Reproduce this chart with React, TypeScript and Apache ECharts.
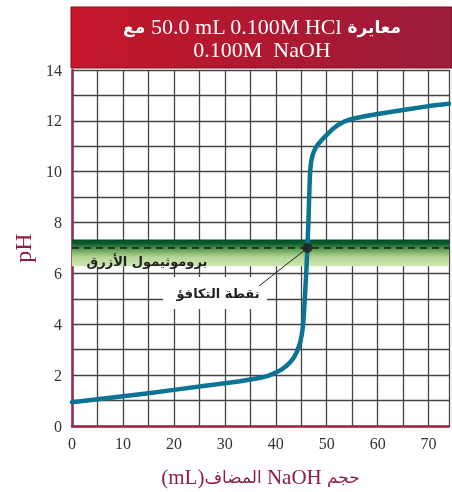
import React, { useEffect, useRef } from 'react';
import * as echarts from 'echarts';

const volume = [0, 5, 10, 15, 20, 25, 30, 33, 35, 37, 38.5, 40, 41, 42, 42.8, 43.5, 44, 44.4, 44.8, 45.1, 45.35, 45.55, 45.75, 46.0, 46.2, 46.4, 46.55, 46.7, 46.8, 46.95, 47.15, 47.45, 47.8, 48.3, 48.9, 49.6, 50.4, 51.3, 52.3, 53.4, 54.6, 56, 58, 60, 65, 70, 74];
const pHValues = [0.93, 1.05, 1.17, 1.29, 1.42, 1.55, 1.68, 1.76, 1.83, 1.9, 1.97, 2.1, 2.2, 2.35, 2.5, 2.68, 2.86, 3.05, 3.3, 3.58, 3.95, 4.5, 5.2, 6.1, 7.0, 8.0, 9.0, 9.85, 10.15, 10.4, 10.6, 10.78, 10.93, 11.08, 11.22, 11.37, 11.53, 11.7, 11.85, 11.97, 12.06, 12.12, 12.2, 12.27, 12.43, 12.58, 12.67];
const equivalencePoint = [46.2, 7];
const indicatorRange = [6.28, 7.33];
const dashedPH = 7;
const xLabels = [0, 10, 20, 30, 40, 50, 60, 70];
const yLabels = [0, 2, 4, 6, 8, 10, 12, 14];

const titleLine1 = '{ar|مع} 50.0 mL 0.100M HCl {ar|معايرة}';
const titleLine2 = '0.100M  NaOH';
const xName = '{p|(mL)}{ar|المضاف} NaOH {ar|حجم}';
const yName = 'pH';
const bandLabel = 'بروموثيمول الأزرق';
const eqLabel = 'نقطة التكافؤ';

const axisRed = '#9b2846';
const nameRed = '#8e1f40';

export default function App() {
  const ref = useRef<HTMLDivElement>(null);
  useEffect(() => {
    const chart = echarts.init(ref.current!, null, { renderer: 'svg' });
    const bandGradient = new echarts.graphic.LinearGradient(0, 0, 0, 1, [
      { offset: 0, color: '#004c26' },
      { offset: 0.15, color: '#0d5c2e' },
      { offset: 0.4, color: '#6aa55c' },
      { offset: 0.65, color: '#b3d595' },
      { offset: 1, color: '#d0e7b4' },
    ]);
    chart.setOption({
      animation: false,
      grid: { left: 72, right: 0, top: 70, bottom: 63 },
      xAxis: {
        type: 'value',
        min: 0,
        max: 74,
        interval: 5,
        axisLine: { show: true, lineStyle: { color: axisRed, width: 2.5 } },
        axisTick: { show: false },
        axisLabel: {
          formatter: (v: number) => (xLabels.includes(v) ? String(v) : ''),
          fontFamily: '"Liberation Serif"',
          fontSize: 16,
          color: '#333',
          margin: 9,
        },
        splitLine: { show: true, lineStyle: { color: '#444', width: 1.3 } },
        name: xName,
        nameLocation: 'middle',
        nameGap: 40,
        nameTextStyle: {
          color: nameRed,
          fontFamily: '"Liberation Serif"',
          fontSize: 21,
          rich: {
            p: { color: nameRed, fontFamily: '"Liberation Serif"', fontSize: 21 },
            ar: { color: nameRed, fontFamily: '"DejaVu Sans"', fontSize: 17 },
          },
        },
      },
      yAxis: {
        type: 'value',
        min: 0,
        max: 14,
        interval: 1,
        axisLine: { show: true, lineStyle: { color: axisRed, width: 2.5 } },
        axisTick: { show: false },
        axisLabel: {
          formatter: (v: number) => (yLabels.includes(v) ? String(v) : ''),
          fontFamily: '"Liberation Serif"',
          fontSize: 16,
          color: '#333',
          margin: 10,
        },
        splitLine: { show: true, lineStyle: { color: '#444', width: 1.3 } },
        name: yName,
        nameLocation: 'middle',
        nameGap: 35,
        nameRotate: 90,
        nameTextStyle: { color: nameRed, fontFamily: '"Liberation Serif"', fontSize: 24 },
      },
      series: [
        {
          type: 'line',
          data: [],
          z: 2,
          markArea: {
            silent: true,
            itemStyle: { color: bandGradient },
            data: [[{ yAxis: indicatorRange[0] }, { yAxis: indicatorRange[1] }]],
          },
          markLine: {
            silent: true,
            symbol: 'none',
            label: { show: false },
            lineStyle: { color: '#1a1a1a', type: [7, 5], width: 1.6 },
            data: [{ yAxis: dashedPH }],
          },
        },
        {
          type: 'line',
          z: 4,
          data: volume.map((v, i) => [v, pHValues[i]]),
          showSymbol: false,
          smooth: false,
          lineStyle: { color: '#0b7394', width: 4.5, join: 'round', cap: 'round' },
        },
        {
          type: 'scatter',
          z: 6,
          data: [equivalencePoint],
          symbolSize: 10,
          itemStyle: { color: '#1c1c1c' },
        },
      ],
    });
    const [ex, ey] = chart.convertToPixel({ gridIndex: 0 }, equivalencePoint);
    const [bx] = chart.convertToPixel({ gridIndex: 0 }, [0, 0]);
    const [, by] = chart.convertToPixel({ gridIndex: 0 }, [0, (indicatorRange[0] + dashedPH) / 2]);
    chart.setOption({
      graphic: [
        {
          type: 'rect',
          z: 100,
          shape: { x: 71, y: 7, width: 381, height: 61 },
          style: {
            fill: new echarts.graphic.LinearGradient(0, 0, 1, 0, [
              { offset: 0, color: '#c5172b' },
              { offset: 0.5, color: '#b0182f' },
              { offset: 1, color: '#9b1d3c' },
            ]),
            stroke: '#7f1224',
            lineWidth: 1,
          },
        },
        {
          type: 'text',
          z: 101,
          x: 262,
          y: 38,
          style: {
            text: titleLine1 + '\n' + titleLine2,
            fill: '#fff',
            font: '22px "Liberation Serif"',
            align: 'center',
            verticalAlign: 'middle',
            lineHeight: 23,
            rich: {
              ar: { fill: '#fff', fontFamily: '"DejaVu Sans"', fontWeight: 'bold', fontSize: 17, lineHeight: 23 },
            },
          },
        },
        {
          type: 'text',
          z: 101,
          x: bx + 75,
          y: by + 4,
          style: {
            text: bandLabel,
            fill: '#222',
            font: 'bold 13px "DejaVu Sans"',
            align: 'center',
            verticalAlign: 'middle',
          },
        },
        {
          type: 'rect',
          z: 100,
          shape: { x: 163, y: 277, width: 104, height: 32 },
          style: { fill: '#fff' },
        },
        {
          type: 'text',
          z: 101,
          x: 218,
          y: 293,
          style: {
            text: eqLabel,
            fill: '#222',
            font: 'bold 13px "DejaVu Sans"',
            align: 'center',
            verticalAlign: 'middle',
          },
        },
        {
          type: 'line',
          z: 101,
          shape: { x1: 259, y1: 286, x2: ex, y2: ey },
          style: { stroke: '#222', lineWidth: 1 },
        },
      ],
    });
    return () => chart.dispose();
  }, []);
  return <div ref={ref} style={{ position: 'fixed', left: 0, top: 0, width: 452, height: 492 }} />;
}
